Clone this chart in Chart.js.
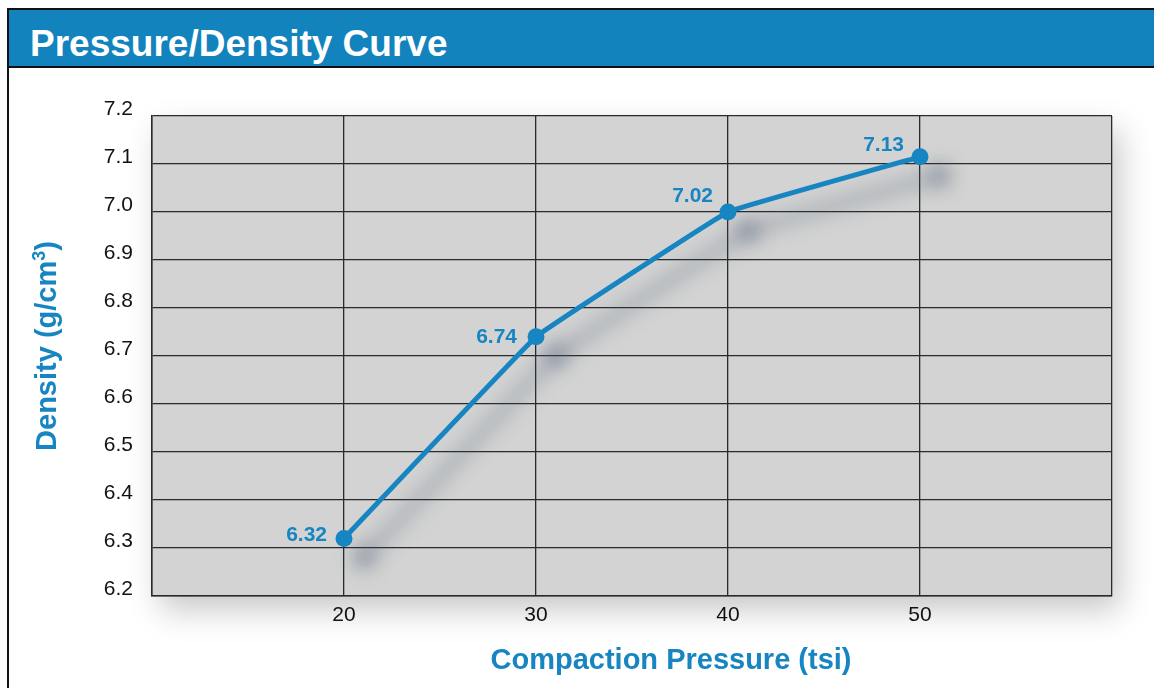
<!DOCTYPE html>
<html>
<head>
<meta charset="utf-8">
<title>Pressure/Density Curve</title>
<script src="https://cdn.jsdelivr.net/npm/chart.js@4.4.1/dist/chart.umd.min.js"></script>
<style>
  html, body { margin: 0; padding: 0; background: #fff; }
  body { width: 1154px; height: 688px; position: relative; overflow: hidden; font-family: "Liberation Sans", Arial, sans-serif; }
  #frame { position: absolute; left: 7px; top: 8px; width: 1147px; height: 680px; border-left: 2px solid #111; border-top: 2px solid #111; box-sizing: border-box; }
  #bar { position: absolute; left: 9px; top: 10px; width: 1145px; height: 58px; background: #1383bd; border-bottom: 2px solid #111; box-sizing: border-box; z-index: 2; }
  #bar h1 { margin: 0; position: absolute; left: 21px; top: 14px; color: #fff; font-size: 37px; font-weight: bold; line-height: 40px; white-space: nowrap; }
  #wrap { position: absolute; left: 0; top: 0; width: 1154px; height: 688px; z-index: 1; }
</style>
</head>
<body>
<div id="frame"></div>
<div id="bar"><h1>Pressure/Density Curve</h1></div>
<div id="wrap"><canvas id="chart"></canvas></div>
<script>
// compaction pressure (tsi) and measured density (g/cm3)
const pressures = [20, 30, 40, 50];
const densities = [6.32, 6.74, 7.0, 7.115];
const pointLabels = ['6.32', '6.74', '7.02', '7.13'];
const xTicks = [10, 20, 30, 40, 50, 60];
const xTickLabels = ['', '20', '30', '40', '50', ''];

const BLUE = '#1785c2';
const FONT = '"Liberation Sans", Arial, sans-serif';

// label offsets from each point (right edge of text, vertical centre)
const labelOffsets = [[-17, -3], [-19, 0], [-15, -16], [-16, -12]];

const plotBackground = {
  id: 'plotBackground',
  beforeDraw(chart) {
    const { ctx, chartArea: a } = chart;
    ctx.save();
    ctx.fillStyle = '#d3d3d3';
    ctx.shadowColor = 'rgba(0,0,0,0.22)';
    ctx.shadowBlur = 30;
    ctx.shadowOffsetX = 8;
    ctx.shadowOffsetY = 14;
    ctx.fillRect(a.left, a.top, a.right - a.left, a.bottom - a.top);
    ctx.restore();
  }
};

const lineShadow = {
  id: 'lineShadow',
  beforeDatasetDraw(chart) {
    const ctx = chart.ctx;
    ctx.save();
    ctx.shadowColor = 'rgba(70,90,112,0.75)';
    ctx.shadowBlur = 20;
    ctx.shadowOffsetX = 20;
    ctx.shadowOffsetY = 19;
  },
  afterDatasetDraw(chart) {
    chart.ctx.restore();
  }
};

const valueLabels = {
  id: 'valueLabels',
  afterDatasetsDraw(chart) {
    const ctx = chart.ctx;
    const meta = chart.getDatasetMeta(0);
    ctx.save();
    ctx.font = 'bold 21px ' + FONT;
    ctx.fillStyle = BLUE;
    ctx.textAlign = 'right';
    ctx.textBaseline = 'middle';
    meta.data.forEach((pt, i) => {
      const [dx, dy] = labelOffsets[i];
      ctx.fillText(pointLabels[i], pt.x + dx, pt.y + dy);
    });
    ctx.restore();
  }
};

const axisTitles = {
  id: 'axisTitles',
  afterDraw(chart) {
    const ctx = chart.ctx;
    ctx.save();
    ctx.fillStyle = BLUE;
    ctx.textBaseline = 'alphabetic';

    // x title
    ctx.font = 'bold 29px ' + FONT;
    ctx.textAlign = 'center';
    ctx.fillText('Compaction Pressure (tsi)', 671, 669);

    // y title with superscript
    ctx.translate(56, 346);
    ctx.rotate(-Math.PI / 2);
    const main = 'Density (g/cm';
    const big = 'bold 29px ' + FONT;
    const small = 'bold 18px ' + FONT;
    ctx.font = big;
    const w1 = ctx.measureText(main).width;
    const w3 = ctx.measureText(')').width;
    ctx.font = small;
    const w2 = ctx.measureText('3').width;
    let x = -(w1 + w2 + w3) / 2;
    ctx.textAlign = 'left';
    ctx.font = big;
    ctx.fillText(main, x, 0);
    x += w1;
    ctx.font = small;
    ctx.fillText('3', x, -11);
    x += w2;
    ctx.font = big;
    ctx.fillText(')', x, 0);
    ctx.restore();
  }
};

new Chart(document.getElementById('chart'), {
  type: 'line',
  data: {
    datasets: [{
      data: pressures.map((p, i) => ({ x: p, y: densities[i] })),
      borderColor: BLUE,
      backgroundColor: BLUE,
      borderWidth: 5,
      pointRadius: 8.5,
      pointHoverRadius: 8.5,
      pointBackgroundColor: BLUE,
      pointBorderWidth: 0,
      tension: 0.05,
      clip: false,
    }],
  },
  options: {
    responsive: true,
    maintainAspectRatio: false,
    animation: false,
    events: [],
    layout: { padding: { left: 0, top: 116, right: 42, bottom: 0 } },
    plugins: { legend: { display: false }, tooltip: { enabled: false } },
    scales: {
      x: {
        type: 'linear',
        min: 10,
        max: 60,
        afterBuildTicks(scale) { scale.ticks = xTicks.map((v) => ({ value: v })); },
        afterFit(scale) { scale.height = 92; },
        grid: { color: '#2a2a2a', lineWidth: 1.3, drawTicks: false },
        border: { color: '#2a2a2a', width: 1.5 },
        ticks: {
          padding: 7,
          color: '#111',
          font: { family: FONT, size: 21 },
          callback: (v) => xTickLabels[xTicks.indexOf(v)],
        },
      },
      y: {
        min: 6.2,
        max: 7.2,
        afterFit(scale) { scale.width = 152; },
        grid: { color: '#2a2a2a', lineWidth: 1.3, drawTicks: false },
        border: { color: '#2a2a2a', width: 1.5 },
        ticks: {
          stepSize: 0.1,
          padding: 19,
          labelOffset: -7,
          color: '#111',
          font: { family: FONT, size: 21 },
          callback: (v) => Number(v).toFixed(1),
        },
      },
    },
  },
  plugins: [plotBackground, lineShadow, valueLabels, axisTitles],
});
</script>
</body>
</html>
